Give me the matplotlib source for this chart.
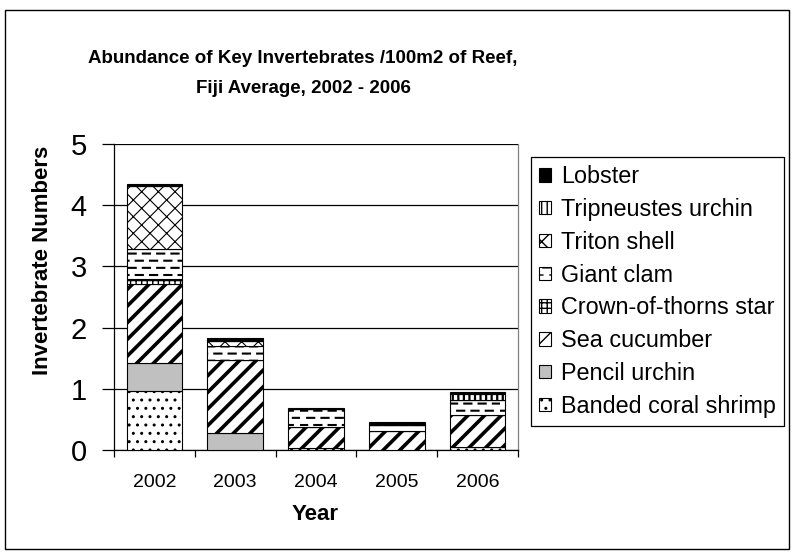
import numpy as np
import matplotlib
matplotlib.use('Agg')
import matplotlib.pyplot as plt
import matplotlib.hatch as mhatch
from matplotlib.patches import Rectangle


# staggered short dashes, like the Excel "dashed horizontal" fill
class Dashes(mhatch.HatchPatternBase):
    def __init__(self, hatch, density):
        self.num_rows = hatch.count('_') * 14
        self.per_row = self.num_rows // 2
        self.num_vertices = self.num_rows * self.per_row * 2

    def set_vertices_and_codes(self, vertices, codes):
        step = 1.0 / self.per_row
        k = 0
        for r in range(self.num_rows):
            y = (r + 0.5) / self.num_rows
            off = 0.5 * step if r % 2 else 0.0
            for c in range(self.per_row):
                x0 = c * step + off
                vertices[k] = (x0, y)
                vertices[k + 1] = (x0 + 0.5 * step, y)
                codes[k] = mhatch.Path.MOVETO
                codes[k + 1] = mhatch.Path.LINETO
                k += 2

mhatch._hatch_types.append(Dashes)

plt.rcParams['font.family'] = ['Liberation Sans', 'DejaVu Sans']

years = ['2002', '2003', '2004', '2005', '2006']

# stacked bottom -> top
series = ['Banded coral shrimp', 'Pencil urchin', 'Sea cucumber',
          'Crown-of-thorns star', 'Giant clam', 'Triton shell',
          'Tripneustes urchin', 'Lobster']
shrimp      = [0.96, 0.00, 0.04, 0.00, 0.05]
pencil      = [0.46, 0.28, 0.00, 0.00, 0.00]
seacucumber = [1.30, 1.19, 0.34, 0.31, 0.53]
crown       = [0.08, 0.00, 0.00, 0.00, 0.00]
giantclam   = [0.49, 0.23, 0.29, 0.10, 0.23]
triton      = [1.02, 0.08, 0.00, 0.00, 0.00]
tripneustes = [0.00, 0.00, 0.00, 0.00, 0.11]
lobster     = [0.03, 0.05, 0.02, 0.05, 0.03]
values = [shrimp, pencil, seacucumber, crown, giantclam, triton, tripneustes, lobster]

# (facecolor, hatch, hatch linewidth)
styles = [('white', '..', 1.0),
          ('#c0c0c0', '', 1.0),
          ('white', '//', 2.6),
          ('white', '+++', 1.0),
          ('white', '_', 1.5),
          ('white', 'xx', 0.8),
          ('white', '|||', 1.6),
          ('black', '', 1.0)]

fig = plt.figure(figsize=(7.94, 5.57), dpi=100)
ax = fig.add_axes([114/794, 1-450/557, 404/794, 306/557])

x = np.arange(len(years))
bottom = np.zeros(len(years))
handles = []
for name, vals, (fc, h, hlw) in zip(series, values, styles):
    with plt.rc_context({'hatch.linewidth': hlw, 'hatch.color': 'black'}):
        bars = ax.bar(x, vals, 0.69, bottom=bottom, color=fc, edgecolor='black',
                      linewidth=0.8, hatch=h if h else None, label=name, zorder=3)
    for b in bars:
        if hasattr(b, 'set_hatch_linewidth'):
            b.set_hatch_linewidth(hlw)
    handles.append(bars)
    bottom += np.array(vals)

ax.set_xlim(-0.5, len(years) - 0.5)
ax.set_ylim(0, 5)
ax.set_yticks(range(6))
ax.yaxis.grid(True, color='black', linewidth=0.9, zorder=0)
ax.set_axisbelow(True)
for s in ax.spines.values():
    s.set_color('black')
    s.set_linewidth(0.9)
ax.spines['top'].set_visible(False)
ax.spines['right'].set_color('#808080')

ax.tick_params(axis='y', length=8.5, width=0.9, pad=11, labelsize=21)
ax.set_xticks(np.arange(-0.5, len(years), 1.0))
ax.set_xticklabels([])
ax.tick_params(axis='x', which='major', length=5, width=0.9)
ax.set_xticks(x, minor=True)
ax.set_xticklabels(years, minor=True)
ax.tick_params(axis='x', which='minor', length=0, pad=17, labelsize=14)

fig.text(303/794, 1-73.5/557, 'Abundance of Key Invertebrates /100m2 of Reef,\nFiji Average, 2002 - 2006',
         ha='center', va='center', fontsize=13.5, fontweight='bold', linespacing=2.05)
fig.text(43/794, 1-260/557, 'Invertebrate Numbers', rotation=90, ha='center', va='center',
         fontsize=16, fontweight='bold')
fig.text(315/794, 1-515/557, 'Year', ha='center', va='center', fontsize=16, fontweight='bold')

leg = fig.legend(handles[::-1], series[::-1], loc='upper left',
                 bbox_to_anchor=(531/794, 1-157/557), fontsize=16.8, frameon=True,
                 fancybox=False, edgecolor='black', framealpha=1, borderpad=0.35,
                 labelspacing=0.42, handlelength=0.5, handleheight=0.5,
                 handletextpad=0.45, borderaxespad=0)
leg.get_frame().set_linewidth(0.9)

fig.patches.append(Rectangle((5/794, 8/557), 784/794, 539/557, transform=fig.transFigure,
                             fill=False, edgecolor='black', linewidth=1.0))

fig.savefig('out.png', dpi=100)
